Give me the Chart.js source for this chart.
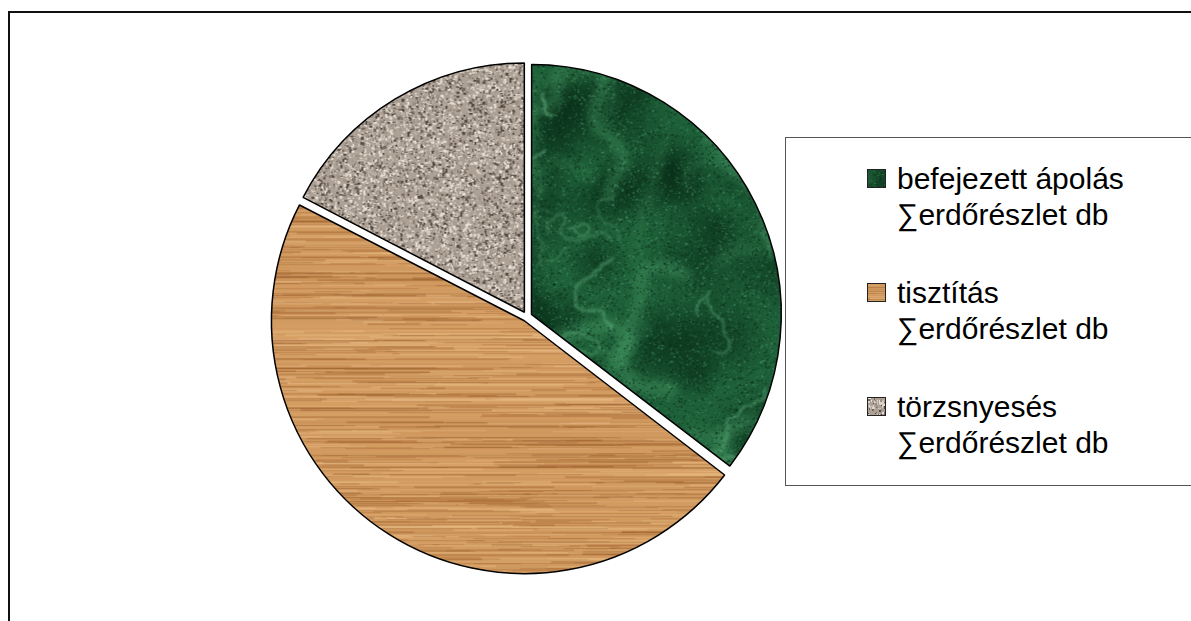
<!DOCTYPE html>
<html>
<head>
<meta charset="utf-8">
<script src="https://cdn.jsdelivr.net/npm/chart.js@4.4.1/dist/chart.umd.min.js"></script>
<style>
    html, body { margin: 0; padding: 0; background: #fff; overflow: hidden; }
    body { width: 1191px; height: 621px; position: relative; font-family: "Liberation Sans", Arial, sans-serif; }
    #frame { position: absolute; left: 8px; top: 11px; width: 1400px; height: 800px;
             border-left: 2px solid #111; border-top: 2px solid #111; }
    #chart { position: absolute; left: 0; top: 0; }
    #legend { position: absolute; left: 785px; top: 137px; width: 500px; height: 347px;
              border: 1px solid #555; background: #fff; }
    .item { position: absolute; left: 0; }
    .swatch { position: absolute; left: 81px; top: 8px; width: 17px; height: 17px;
              border: 1px solid #222; }
    .text { position: absolute; left: 111px; top: 0; font-size: 30px; line-height: 36px;
            color: #000; white-space: nowrap; }
</style>
</head>
<body>
<div id="frame"></div>
<canvas id="chart" width="1191" height="621"></canvas>
<div id="legend"></div>

<script>
// data
const categories = ['befejezett ápolás', 'tisztítás', 'törzsnyesés'];
const measure = '∑erdőrészlet db';
const counts = [57, 76, 28];

// simple seeded random, only used for the textures
function makeRand(seed) {
    return function() {
        seed |= 0; seed = seed + 0x6D2B79F5 | 0;
        let t = Math.imul(seed ^ seed >>> 15, 1 | seed);
        t = t + Math.imul(t ^ t >>> 7, 61 | t) ^ t;
        return ((t ^ t >>> 14) >>> 0) / 4294967296;
    };
}

// draw something 9 times so the tile repeats without seams
function wrapped(w, h, fn) {
    for (let dx = -w; dx <= w; dx += w)
        for (let dy = -h; dy <= h; dy += h) fn(dx, dy);
}

// green marble
function marbleTexture() {
    const S = 320;
    const c = document.createElement('canvas');
    c.width = S; c.height = S;
    const g = c.getContext('2d');
    const r = makeRand(11);
    g.fillStyle = '#1e6039';
    g.fillRect(0, 0, S, S);
    // dark clouds
    for (let i = 0; i < 45; i++) {
        const x = r() * S, y = r() * S, rad = 15 + r() * 45;
        wrapped(S, S, function(dx, dy) {
            const grd = g.createRadialGradient(x + dx, y + dy, 0, x + dx, y + dy, rad);
            grd.addColorStop(0, 'rgba(6,40,20,0.55)');
            grd.addColorStop(1, 'rgba(6,40,20,0)');
            g.fillStyle = grd;
            g.fillRect(x + dx - rad, y + dy - rad, rad * 2, rad * 2);
        });
    }
    function veins(n, width, step, turn, color, blur) {
        g.filter = blur ? 'blur(' + blur + 'px)' : 'none';
        for (let i = 0; i < n; i++) {
            const pts = [];
            let x = r() * S, y = r() * S, a = r() * Math.PI * 2;
            const steps = 6 + Math.floor(r() * 20);
            pts.push([x, y]);
            for (let s = 0; s < steps; s++) {
                a += (r() - 0.5) * turn;
                x += Math.cos(a) * step; y += Math.sin(a) * step;
                pts.push([x, y]);
            }
            const lw = width * (0.6 + r() * 0.8);
            const alpha = 0.25 + r() * 0.35;
            wrapped(S, S, function(dx, dy) {
                g.strokeStyle = color.replace('A', alpha);
                g.lineWidth = lw;
                g.beginPath();
                pts.forEach(function(p, k) {
                    if (k === 0) g.moveTo(p[0] + dx, p[1] + dy); else g.lineTo(p[0] + dx, p[1] + dy);
                });
                g.stroke();
            });
        }
        g.filter = 'none';
    }
    veins(18, 12, 9, 1.4, 'rgba(65,145,95,A)', 5);
    // grain
    for (let i = 0; i < 14000; i++) {
        const v = r();
        g.fillStyle = v < 0.5 ? 'rgba(8,45,25,0.45)' : (v < 0.85 ? 'rgba(45,118,75,0.4)' : 'rgba(90,170,120,0.35)');
        g.fillRect(Math.floor(r() * S), Math.floor(r() * S), 1 + Math.floor(r() * 2), 1 + Math.floor(r() * 2));
    }
    veins(22, 2.4, 5, 2.0, 'rgba(105,185,135,A)', 1.2);
    return c;
}

// oak wood, horizontal grain
function woodTexture() {
    const W = 600, H = 300;
    const c = document.createElement('canvas');
    c.width = W; c.height = H;
    const g = c.getContext('2d');
    const r = makeRand(23);
    g.fillStyle = '#d49d62';
    g.fillRect(0, 0, W, H);
    let shade = 0;
    for (let y = 0; y < H; y++) {
        shade = shade * 0.8 + (r() - 0.5) * 0.35;
        const k = Math.max(-1, Math.min(1, shade));
        g.fillStyle = k > 0 ? 'rgba(236,188,135,' + (k * 0.45) + ')' : 'rgba(160,96,45,' + (-k * 0.45) + ')';
        g.fillRect(0, y, W, 1);
    }
    for (let i = 0; i < 900; i++) {
        const x = r() * W, y = Math.floor(r() * H), len = 30 + r() * 220;
        const th = r() < 0.75 ? 1 : 2;
        g.fillStyle = r() < 0.65 ? 'rgba(150,88,36,0.32)' : 'rgba(240,198,145,0.32)';
        g.fillRect(x, y, len, th);
        g.fillRect(x - W, y, len, th);
    }
    return c;
}

// granite, fine speckles
function graniteTexture() {
    const S = 200;
    const c = document.createElement('canvas');
    c.width = S; c.height = S;
    const g = c.getContext('2d');
    const r = makeRand(37);
    g.fillStyle = '#ada196';
    g.fillRect(0, 0, S, S);
    const cols = ['#dcd3c9', '#c9bfb4', '#9c9085', '#72685f', '#564c44', '#e8e0d6'];
    for (let i = 0; i < 7500; i++) {
        g.fillStyle = cols[Math.floor(r() * cols.length)];
        g.fillRect(Math.floor(r() * S), Math.floor(r() * S), 1 + Math.floor(r() * 2.5), 1 + Math.floor(r() * 2.5));
    }
    return c;
}

const textures = [marbleTexture(), woodTexture(), graniteTexture()];
const ctx = document.getElementById('chart').getContext('2d');
const fills = textures.map(t => ctx.createPattern(t, 'repeat'));

new Chart(ctx, {
    type: 'pie',
    data: {
        labels: categories.map(c => c + ' ' + measure),
        datasets: [{
            data: counts,
            backgroundColor: fills,
            borderColor: '#000',
            borderWidth: 1.5,
            hoverBorderWidth: 1.5,
            offset: 20,      // arcs are moved by offset / 4
            hoverOffset: 20
        }]
    },
    options: {
        responsive: false,
        animation: false,
        events: [],
        layout: { padding: { left: 267, right: 404, top: 57, bottom: 45 } },
        plugins: {
            legend: { display: false },
            tooltip: { enabled: false }
        }
    }
});

// legend box on the right
const legend = document.getElementById('legend');
categories.forEach(function(name, i) {
    const item = document.createElement('div');
    item.className = 'item';
    item.style.top = (23 + i * 114) + 'px';

    const sw = document.createElement('canvas');
    sw.className = 'swatch';
    sw.width = 17; sw.height = 17;
    const sctx = sw.getContext('2d');
    sctx.fillStyle = sctx.createPattern(textures[i], 'repeat');
    sctx.fillRect(0, 0, 17, 17);
    item.appendChild(sw);

    const txt = document.createElement('div');
    txt.className = 'text';
    txt.innerHTML = name + '<br>' + measure;
    item.appendChild(txt);
    legend.appendChild(item);
});
</script>
</body>
</html>
